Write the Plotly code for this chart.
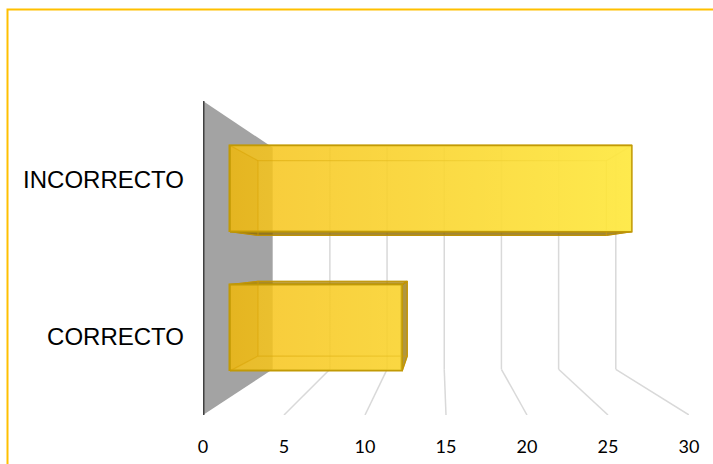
import plotly.graph_objects as go

# ---- data ----
categories = ["CORRECTO", "INCORRECTO"]
values = [12, 28]
x_ticks = [0, 5, 10, 15, 20, 25, 30]

# ---- 3D perspective model (in data units of the front plane) ----
VPX, VPY = 14.63, 0.49      # vanishing point
S_WALL = 0.706              # depth scale of back wall
S_FRONT = 0.886             # depth scale of bar front face
S_BACK = 0.768              # depth scale of bar back face
HW = 0.31                   # bar half-height (category units)
Y_LO, Y_HI = -0.5, 1.5


def px(x, s):
    return VPX + (x - VPX) * s


def py(y, s):
    return VPY + (y - VPY) * s


fig = go.Figure()
shapes = []

# side wall (value 0 plane)
wall_pts = [(px(0, 1), py(Y_HI, 1)), (px(0, S_WALL), py(Y_HI, S_WALL)),
            (px(0, S_WALL), py(Y_LO, S_WALL)), (px(0, 1), py(Y_LO, 1))]
path = "M " + " L ".join(f"{a},{b}" for a, b in wall_pts) + " Z"
shapes.append(dict(type="path", path=path, xref="x", yref="y", layer="below",
                   fillcolor="#A3A3A3", line=dict(width=0)))

# gridlines: back wall vertical + floor diagonal
for v in x_ticks[1:]:
    shapes.append(dict(type="line", xref="x", yref="y", layer="below",
                       x0=px(v, S_WALL), y0=py(Y_HI, S_WALL),
                       x1=px(v, S_WALL), y1=py(Y_LO, S_WALL),
                       line=dict(color="#D9D9D9", width=1.5)))
    shapes.append(dict(type="line", xref="x", yref="y", layer="below",
                       x0=px(v, S_WALL), y0=py(Y_LO, S_WALL),
                       x1=v, y1=Y_LO,
                       line=dict(color="#D9D9D9", width=1.5)))

# dark front edge of the wall
shapes.append(dict(type="line", xref="x", yref="y", layer="above",
                   x0=0, y0=Y_HI, x1=0, y1=Y_LO,
                   line=dict(color="#404040", width=3)))

# chart border: only the left and top edges are inside the picture
bx, by = 7.5 / 713, 1 - 9.5 / 464
shapes.append(dict(type="path", xref="paper", yref="paper",
                   path=f"M {bx},0 L {bx},{by} L 1,{by}",
                   line=dict(color="#FFC000", width=2), layer="above"))

# front faces as bars
fig.add_trace(go.Bar(
    orientation="h",
    y=[py(c, S_FRONT) for c in range(len(categories))],
    x=[v * S_FRONT for v in values],
    base=[px(0, S_FRONT)] * len(values),
    width=[2 * HW * S_FRONT] * len(values),
    marker=dict(color="rgba(245,192,20,0.84)",
                line=dict(color="#C29A05", width=1.5)),
    hoverinfo="skip", showlegend=False,
))


def poly(pts, fill, line_color=None, lw=1.0):
    xs = [p[0] for p in pts] + [pts[0][0]]
    ys = [p[1] for p in pts] + [pts[0][1]]
    fig.add_trace(go.Scatter(
        x=xs, y=ys, mode="lines", fill="toself" if fill else None,
        fillcolor=fill, line=dict(color=line_color or "rgba(0,0,0,0)", width=lw),
        hoverinfo="skip", showlegend=False))


for c, v in enumerate(values):
    y0, y1 = c - HW, c + HW

    def F(x, y):
        return (px(x, S_FRONT), py(y, S_FRONT))

    def B(x, y):
        return (px(x, S_BACK), py(y, S_BACK))

    # visible side faces
    if 0 < VPX:  # left face
        poly([F(0, y0), F(0, y1), B(0, y1), B(0, y0)], "rgba(220,160,0,0.22)")
    if v < VPX:  # right face
        poly([F(v, y0), F(v, y1), B(v, y1), B(v, y0)], "rgba(150,115,0,0.75)",
             "#B08A05", 1.2)
    if y1 < VPY:  # top face
        poly([F(0, y1), F(v, y1), B(v, y1), B(0, y1)], "rgba(170,130,0,0.75)",
             "#B08A05", 1.2)
    if y0 > VPY:  # bottom face
        poly([F(0, y0), F(v, y0), B(v, y0), B(0, y0)], "rgba(140,105,0,0.8)",
             "#A07C05", 1.0)
    # back face outline + connecting edges (seen through transparent bar)
    poly([B(0, y0), B(v, y0), B(v, y1), B(0, y1)], None, "rgba(215,160,0,0.55)", 1.2)
    for xx in (0, v):
        for yy in (y0, y1):
            a, b = F(xx, yy), B(xx, yy)
            fig.add_trace(go.Scatter(x=[a[0], b[0]], y=[a[1], b[1]], mode="lines",
                                     line=dict(color="rgba(215,160,0,0.55)", width=1.2),
                                     hoverinfo="skip", showlegend=False))
    # gradient highlight over the front face
    fx0, fx1 = px(0, S_FRONT), px(v, S_FRONT)
    fy0, fy1 = py(y0, S_FRONT), py(y1, S_FRONT)
    fig.add_trace(go.Scatter(
        x=[fx0, fx1, fx1, fx0, fx0], y=[fy0, fy0, fy1, fy1, fy0],
        mode="lines", fill="toself",
        fillgradient=dict(type="horizontal", start=px(0, S_FRONT), stop=px(30, S_FRONT),
                          colorscale=[[0, "rgba(255,236,80,0)"],
                                      [1, "rgba(255,238,80,0.95)"]]),
        line=dict(color="#C29A05", width=1.5),
        hoverinfo="skip", showlegend=False))

fig.update_layout(
    width=713, height=464,
    margin=dict(l=0, r=0, t=0, b=0, pad=0, autoexpand=False),
    paper_bgcolor="white", plot_bgcolor="rgba(0,0,0,0)",
    shapes=shapes, showlegend=False, bargap=0,
    xaxis=dict(domain=[203 / 713, 689 / 713], range=[0, 30], automargin=False,
               tickvals=x_ticks, ticktext=[str(t) for t in x_ticks],
               showgrid=False, zeroline=False, showline=False, ticks="",
               ticklabelstandoff=19,
               tickfont=dict(family="Lato", size=18, color="#000000")),
    yaxis=dict(domain=[1 - 415 / 464, 1 - 101 / 464], range=[Y_LO, Y_HI],
               automargin=False,
               tickvals=list(range(len(categories))), ticktext=categories,
               showgrid=False, zeroline=False, showline=False, ticks="",
               ticklabelstandoff=18,
               tickfont=dict(family="Liberation Sans", size=24, color="#000000")),
)

fig.write_html("out.html")
